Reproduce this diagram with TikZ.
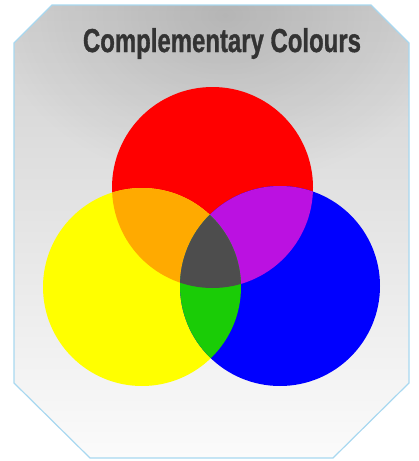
\documentclass[tikz,border=0pt]{standalone}
\usepackage{fontspec}
\setmainfont{Liberation Sans}
\newfontfamily\titlefont[FakeBold=1.2]{Liberation Sans Bold}
\usetikzlibrary{fadings}
\definecolor{bordercol}{RGB}{168,216,240}
\definecolor{bgtop}{RGB}{208,208,208}
\definecolor{bgmid}{RGB}{218,218,218}
\definecolor{bgbot}{RGB}{251,251,251}
\definecolor{cred}{RGB}{255,0,0}
\definecolor{cyellow}{RGB}{255,255,0}
\definecolor{cblue}{RGB}{0,0,255}
\definecolor{corange}{RGB}{255,170,0}
\definecolor{cpurple}{RGB}{187,17,225}
\definecolor{cgreen}{RGB}{26,204,6}
\definecolor{cgray}{RGB}{77,77,77}
\definecolor{titlecol}{RGB}{51,51,51}
\tikzfading[name=spotfade, inner color=transparent!0, outer color=transparent!100]
\begin{document}
\begin{tikzpicture}[x=1pt,y=-1pt]
\useasboundingbox (0,0) rectangle (419,461);
\def\octagon{(52,5) -- (371,5) -- (409,43) -- (409,383) -- (333,458) -- (90,458) -- (14,383) -- (14,43) -- cycle}
\path[top color=bgtop, middle color=bgmid, bottom color=bgbot] \octagon;
\begin{scope}
  \clip \octagon;
  \fill[black, fill opacity=0.13, path fading=spotfade] (225,15) ellipse (230 and 170);
\end{scope}
\path[draw=bordercol, line width=1.2pt] \octagon;
\node[anchor=base, text=titlecol, inner sep=0pt] (title) at (222,52)
  {\resizebox{278pt}{24pt}{\titlefont Complementary Colours}};
\coordinate (R) at (212.5,187.5);
\coordinate (Y) at (142,287);
\coordinate (B) at (280,286);
\def\rr{100.5}\def\ry{99}\def\rb{100}
\fill[cred] (R) circle (\rr);
\fill[cyellow] (Y) circle (\ry);
\fill[cblue] (B) circle (\rb);
\begin{scope}\clip (R) circle (\rr); \fill[corange] (Y) circle (\ry); \end{scope}
\begin{scope}\clip (R) circle (\rr); \fill[cpurple] (B) circle (\rb); \end{scope}
\begin{scope}\clip (Y) circle (\ry); \fill[cgreen] (B) circle (\rb); \end{scope}
\begin{scope}\clip (R) circle (\rr); \clip (Y) circle (\ry); \fill[cgray] (B) circle (\rb); \end{scope}
\end{tikzpicture}
\end{document}
